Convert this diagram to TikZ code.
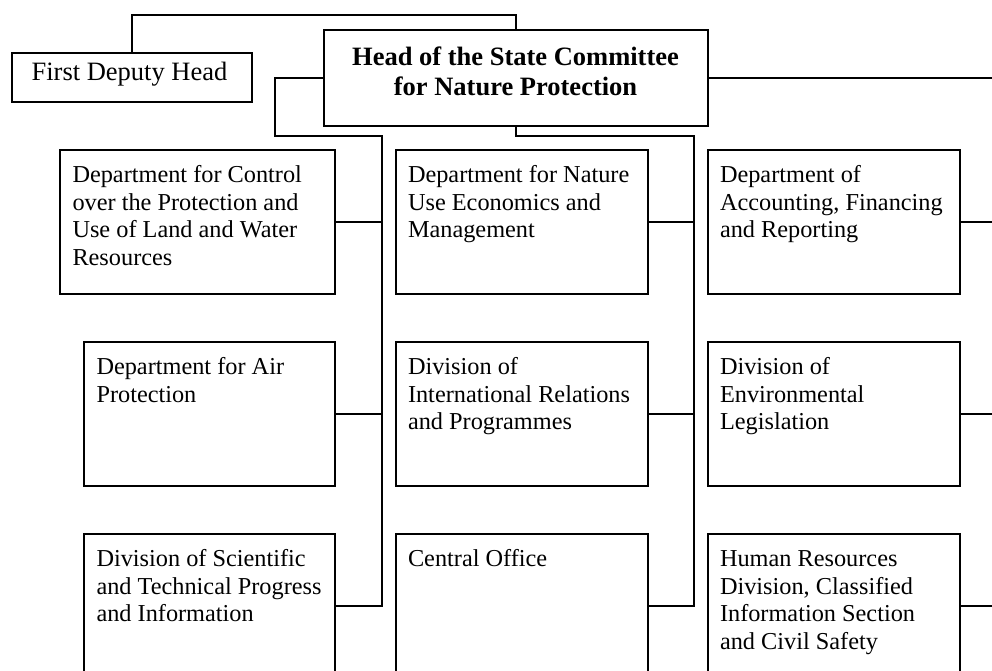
\documentclass[tikz,border=0pt]{standalone}
\usepackage{fontspec}
\setmainfont{Liberation Serif}
\begin{document}
\begin{tikzpicture}[x=1pt,y=-1pt,line width=2pt,
  unitbox/.style={draw,rectangle,inner sep=0pt,anchor=north west,minimum height=144pt},
  lbox/.style={unitbox,minimum width=275pt},
  sbox/.style={unitbox,minimum width=251.5pt},
  boxtext/.style={anchor=north west,inner sep=0pt,align=left,font=\fontsize{24.3}{27.7}\selectfont},
  conn/.style={draw,line width=2pt}]
\useasboundingbox (0,0) rectangle (992,671);
\clip (0,0) rectangle (992,671);
% head and first deputy
\node[draw,rectangle,inner sep=0pt,minimum width=384pt,minimum height=96pt,anchor=north west] (head) at (323,29) {};
\node[anchor=north,inner sep=0pt,align=center,font=\fontsize{26.5}{30.7}\selectfont\bfseries] (headtxt) at (515.5,42.8) {\strut Head of the State Committee\\for Nature Protection};
\node[draw,rectangle,inner sep=0pt,minimum width=240pt,minimum height=49pt,anchor=north west] (fdh) at (11,52) {};
\node[anchor=base,inner sep=0pt,font=\fontsize{26.5}{30.7}\selectfont] (fdhtxt) at (129.5,81) {First Deputy Head};
% left column
\node[lbox] (L1) at (59,149) {};
\node[sbox,minimum width=251pt] (L2) at (83,341) {};
\node[sbox,minimum width=251pt] (L3) at (83,533) {};
% middle column
\node[sbox] (M1) at (395,149) {};
\node[sbox] (M2) at (395,341) {};
\node[sbox] (M3) at (395,533) {};
% right column
\node[sbox] (R1) at (707,149) {};
\node[sbox] (R2) at (707,341) {};
\node[sbox] (R3) at (707,533) {};
% texts
\node[boxtext] (L1t) at (71.5,162) {\strut Department for Control\\over the Protection and\\Use of Land and Water\\Resources};
\node[boxtext] (L2t) at (95.5,354) {\strut Department for Air\\Protection};
\node[boxtext] (L3t) at (95.5,546) {\strut Division of Scientific\\and Technical Progress\\and Information};
\node[boxtext] (M1t) at (407,162) {\strut Department for Nature\\Use Economics and\\Management};
\node[boxtext] (M2t) at (407,354) {\strut Division of\\International Relations\\and Programmes};
\node[boxtext] (M3t) at (407,546) {\strut Central Office};
\node[boxtext] (R1t) at (719,162) {\strut Department of\\Accounting, Financing\\and Reporting};
\node[boxtext] (R2t) at (719,354) {\strut Division of\\Environmental\\Legislation};
\node[boxtext] (R3t) at (719,546) {\strut Human Resources\\Division, Classified\\Information Section\\and Civil Safety};
% coordinates
\coordinate (topY) at (0,15);
\coordinate (jL) at (275,136.5);
\coordinate (topL) at (381.5,136.5);
\coordinate (topM) at (694,136.5);
\coordinate (edge) at (1000,0);
% connectors
\draw[conn] (fdh.north) -- (fdh.north |- topY) -| (head.north);
\draw[conn] (head.west) -| (jL) -- (topL) |- (L3.east);
\draw[conn] (head.south) |- (topM) |- (M3.east);
\draw[conn] (head.east) -- (head.east -| edge);
\draw[conn] (L1.east) -- (L1.east -| topL);
\draw[conn] (L2.east) -- (L2.east -| topL);
\draw[conn] (M1.east) -- (M1.east -| topM);
\draw[conn] (M2.east) -- (M2.east -| topM);
\draw[conn] (R1.east) -- (R1.east -| edge);
\draw[conn] (R2.east) -- (R2.east -| edge);
\draw[conn] (R3.east) -- (R3.east -| edge);
\end{tikzpicture}
\end{document}
